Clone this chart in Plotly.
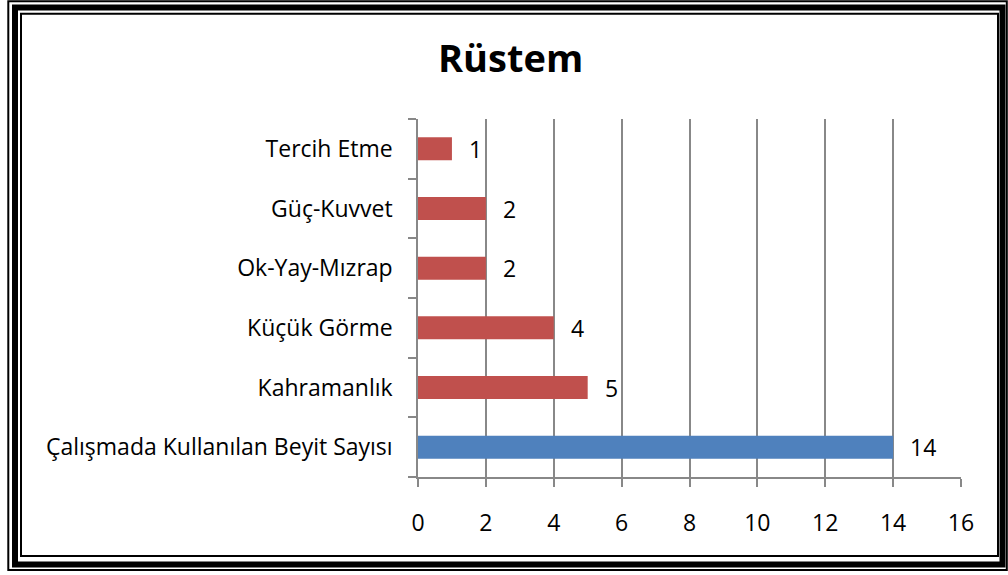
import plotly.graph_objects as go

categories = ["Çalışmada Kullanılan Beyit Sayısı", "Kahramanlık", "Küçük Görme",
              "Ok-Yay-Mızrap", "Güç-Kuvvet", "Tercih Etme"]
values = [14, 5, 4, 2, 2, 1]
colors = ["#4F81BD", "#C0504D", "#C0504D", "#C0504D", "#C0504D", "#C0504D"]
x_ticks = [0, 2, 4, 6, 8, 10, 12, 14, 16]
title_text = "Rüstem"

W, H = 1008, 575
L, R, T, B = 418, 47, 119, 98
pw, ph = W - L - R, H - T - B

def px(x):
    return (x - L) / pw

def py(y):
    return (H - B - y) / ph

FONT = "Open Sans"
FS = 23
fig = go.Figure()
fig.add_trace(go.Bar(
    x=values, y=categories, orientation="h",
    marker=dict(color=colors, line=dict(width=0)),
    hoverinfo="x+y",
))

annotations = []
for c, v in zip(categories, values):
    annotations.append(dict(x=v, y=c, xref="x", yref="y", text=str(v),
                            showarrow=False, xanchor="left", xshift=15,
                            font=dict(family=FONT, size=FS, color="#000000")))
annotations.append(dict(x=px(510), y=py(57), xref="paper", yref="paper",
                        text="<b>" + title_text + "</b>", showarrow=False,
                        xanchor="center", yanchor="middle",
                        font=dict(family=FONT, size=38, color="#000000")))

shapes = []
for (x0, y0, x1, y1, w) in [(8.3, 1.3, 1006.8, 570, 2),
                            (15, 7.5, 1002.5, 564.5, 6),
                            (21, 13.7, 998, 556, 2)]:
    shapes.append(dict(type="rect", xref="paper", yref="paper",
                       x0=px(x0), x1=px(x1), y0=py(y0), y1=py(y1),
                       line=dict(color="#000000", width=w), layer="above"))

fig.update_layout(
    width=W, height=H,
    margin=dict(l=L, r=R, t=T, b=B),
    paper_bgcolor="white", plot_bgcolor="white",
    showlegend=False,
    bargap=0.615,
    font=dict(family=FONT, size=FS, color="#000000"),
    annotations=annotations,
    shapes=shapes,
    xaxis=dict(range=[0, 16], tickvals=x_ticks, ticktext=[str(t) for t in x_ticks],
               showgrid=True, gridcolor="#888888", gridwidth=1.5,
               showline=True, linecolor="#888888", linewidth=1.5,
               ticks="outside", ticklen=8, tickcolor="#888888", tickwidth=1.5,
               ticklabelstandoff=17, zeroline=False, fixedrange=True,
               tickfont=dict(family=FONT, size=FS, color="#000000")),
    yaxis=dict(type="category", categoryorder="array", categoryarray=categories,
               showgrid=False, showline=True, linecolor="#888888", linewidth=1.5,
               ticks="outside", ticklen=8, tickcolor="#888888", tickwidth=1.5,
               tickson="boundaries", ticklabelstandoff=19, fixedrange=True,
               tickfont=dict(family=FONT, size=FS, color="#000000")),
)

fig.write_html("out.html",
               config={"displayModeBar": False},
               post_script="document.body.style.margin='0px';"
                           "document.body.style.overflow='hidden';")
